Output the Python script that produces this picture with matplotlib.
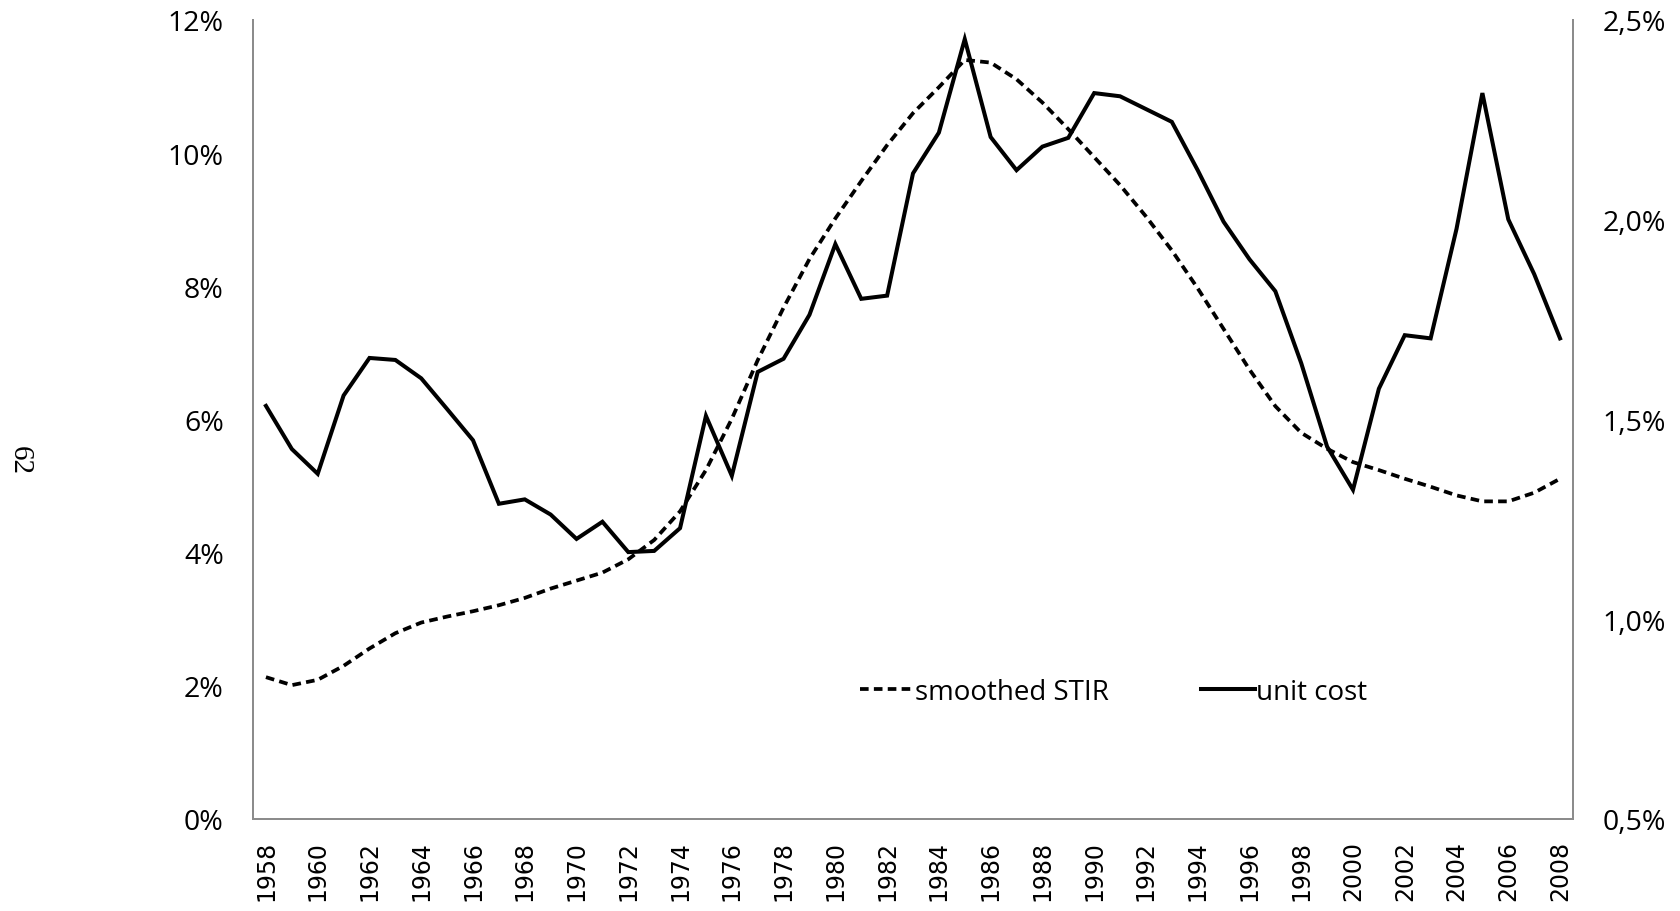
import matplotlib.pyplot as plt
from matplotlib.ticker import FuncFormatter
from matplotlib.lines import Line2D

# ---- data ----
years = list(range(1958, 2009))

# smoothed short-term interest rate, left axis (%)
stir = [2.13, 2.01, 2.09, 2.30, 2.56, 2.79, 2.95, 3.04, 3.12, 3.21,
        3.32, 3.46, 3.58, 3.70, 3.90, 4.19, 4.62, 5.24, 6.01, 6.89,
        7.68, 8.41, 9.02, 9.58, 10.12, 10.60, 10.99, 11.40, 11.36, 11.11,
        10.76, 10.36, 9.94, 9.52, 9.05, 8.54, 7.97, 7.36, 6.75, 6.20,
        5.80, 5.56, 5.36, 5.24, 5.11, 4.99, 4.86, 4.77, 4.77, 4.90,
        5.11]

# unit cost, right axis (%)
unit_cost = [1.534, 1.426, 1.364, 1.560, 1.654, 1.649, 1.603, 1.526, 1.448, 1.289,
             1.300, 1.262, 1.201, 1.244, 1.168, 1.171, 1.228, 1.509, 1.359, 1.619,
             1.652, 1.762, 1.939, 1.802, 1.810, 2.116, 2.218, 2.452, 2.207, 2.124,
             2.183, 2.205, 2.317, 2.309, 2.277, 2.245, 2.124, 1.995, 1.901, 1.821,
             1.641, 1.432, 1.324, 1.577, 1.711, 1.703, 1.977, 2.317, 2.001, 1.864,
             1.703]

left_ticks = [0, 2, 4, 6, 8, 10, 12]
right_ticks = [0.5, 1.0, 1.5, 2.0, 2.5]

# ---- figure ----
fig = plt.figure(figsize=(16.8, 9.12), dpi=100)
ax = fig.add_axes([0.1506, 0.1009, 0.7857, 0.8761])
ax2 = ax.twinx()

dash = (2.3, 1.4)
ax.plot(years, stir, color='black', lw=2.7, linestyle=(0, dash), dash_capstyle='butt')
ax2.plot(years, unit_cost, color='black', lw=2.9, solid_joinstyle='miter')

ax.set_xlim(1957.5, 2008.5)
ax.set_ylim(0, 12)
ax2.set_ylim(0.5, 2.5)

ax.set_xticks(years[::2])
ax.set_xticklabels([str(y) for y in years[::2]], rotation=90, fontsize=17,
                   family='DejaVu Sans')
ax.set_yticks(left_ticks)
ax2.set_yticks(right_ticks)
ax.yaxis.set_major_formatter(FuncFormatter(lambda v, p: f'{v:.0f}%'))
ax2.yaxis.set_major_formatter(FuncFormatter(lambda v, p: f'{v:.1f}%'.replace('.', ',')))

for a in (ax, ax2):
    a.tick_params(axis='both', length=0)
    a.tick_params(axis='y', labelsize=20.5, pad=21)
    for lab in a.get_yticklabels():
        lab.set_family('Open Sans')
    for s in a.spines.values():
        s.set_color('#8c8c8c')
        s.set_linewidth(1.4)
    a.spines['top'].set_visible(False)
ax.tick_params(axis='x', pad=15)

handles = [Line2D([], [], color='black', lw=2.7, linestyle=(0, dash), dash_capstyle='butt'),
           Line2D([], [], color='black', lw=2.9)]
ax2.legend(handles, ['smoothed STIR', 'unit cost'], loc='center',
           bbox_to_anchor=(0.652, 0.159), ncol=2, frameon=False,
           prop={'family': 'Open Sans', 'size': 20},
           handlelength=1.95, handletextpad=0.05, columnspacing=3.3)

# rotated page number at the left margin
fig.text(0.012, 0.495, '62', rotation=-90, family='Liberation Serif', fontsize=21,
         ha='center', va='center')

fig.savefig('out.png', dpi=100)
